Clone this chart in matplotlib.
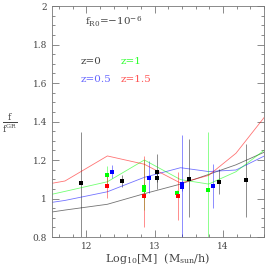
import numpy as np
import matplotlib
matplotlib.use('Agg')
import matplotlib.pyplot as plt
from matplotlib.ticker import MultipleLocator

# model curves (shared mass nodes)
mass_nodes = [11.5, 11.69, 12.31, 12.85, 13.38, 13.79, 14.19, 14.6]
line_z0 = [0.93, 0.94, 0.97, 1.025, 1.075, 1.125, 1.175, 1.24]
line_z05 = [0.98, 0.99, 1.035, 1.11, 1.16, 1.14, 1.148, 1.22]
line_z1 = [1.022, 1.037, 1.087, 1.2, 1.098, 1.075, 1.139, 1.25]
line_z15 = [1.079, 1.091, 1.221, 1.178, 1.08, 1.12, 1.235, 1.42]

# simulation points: mass, value, upper end, lower end
pts_z0_m = [11.93, 12.53, 13.03, 13.03, 13.5, 13.94, 14.33]
pts_z0_v = [1.079, 1.092, 1.139, 1.108, 1.10, 1.087, 1.096]
pts_z0_hi = [1.347, 1.122, 1.231, 1.13, 1.307, 1.152, 1.283]
pts_z0_lo = [0.80, 1.058, 1.048, 1.085, 0.902, 1.023, 0.902]

pts_z05_m = [12.38, 12.92, 13.4, 13.4, 13.85]
pts_z05_v = [1.139, 1.105, 1.074, 1.061, 1.065]
pts_z05_hi = [1.174, 1.196, 1.33, 1.09, 1.178]
pts_z05_lo = [1.108, 1.027, 0.80, 1.04, 0.949]

pts_z1_m = [12.31, 12.84, 12.84, 13.33, 13.78]
pts_z1_v = [1.122, 1.061, 1.044, 1.03, 1.044]
pts_z1_hi = [1.17, 1.2, 1.08, 1.045, 1.347]
pts_z1_lo = [1.075, 0.94, 1.0, 1.015, 0.80]

pts_z15_m = [12.31, 12.84, 13.34]
pts_z15_v = [1.065, 1.013, 1.013]
pts_z15_hi = [1.12, 1.221, 1.139]
pts_z15_lo = [1.004, 0.85, 0.888]

series = [
    ('black', line_z0, pts_z0_m, pts_z0_v, pts_z0_hi, pts_z0_lo),
    ('blue', line_z05, pts_z05_m, pts_z05_v, pts_z05_hi, pts_z05_lo),
    ('#00ff00', line_z1, pts_z1_m, pts_z1_v, pts_z1_hi, pts_z1_lo),
    ('red', line_z15, pts_z15_m, pts_z15_v, pts_z15_hi, pts_z15_lo),
]

plt.rcParams['font.family'] = 'DejaVu Serif'
plt.rcParams['mathtext.fontset'] = 'dejavuserif'

fig = plt.figure(figsize=(2.79, 2.79), dpi=100)
ax = fig.add_axes([52/279, 42/279, 212/279, 231/279])

for col, line, m, v, hi, lo in series:
    ax.plot(mass_nodes, line, color=col, lw=0.6, alpha=0.55)
    v = np.array(v)
    yerr = [v - np.array(lo), np.array(hi) - v]
    ax.errorbar(m, v, yerr=yerr, fmt='s', color=col, ms=2.4, elinewidth=0.7,
                capsize=1.5, capthick=0.6, ecolor=col, alpha=1.0,
                markeredgewidth=0)
    for eb in ax.containers[-1].lines[1:]:
        for e in eb:
            e.set_alpha(0.45)

ax.set_xlim(11.5, 14.6)
ax.set_ylim(0.8, 2.0)
ax.xaxis.set_major_locator(MultipleLocator(1))
ax.xaxis.set_minor_locator(MultipleLocator(0.2))
ax.yaxis.set_major_locator(MultipleLocator(0.2))
ax.yaxis.set_minor_locator(MultipleLocator(0.05))
ax.set_yticks([0.8, 1.0, 1.2, 1.4, 1.6, 1.8, 2.0])
ax.set_yticklabels(['0.8', '1', '1.2', '1.4', '1.6', '1.8', '2'])
ax.tick_params(which='both', direction='in', top=True, right=True,
               labelsize=6.5, labelcolor='#444444', color='#777777', width=0.6)
ax.tick_params(which='major', length=5)
ax.tick_params(which='minor', length=2.5)
for s in ax.spines.values():
    s.set_color('#777777')
    s.set_linewidth(0.6)

ax.text(11.98, 1.917, r'f$_{\rm R0}$=$-$10$^{-6}$', fontsize=7.5, color='#444444',
        va='center')
ax.text(11.92, 1.714, 'z=0', fontsize=7.5, color='#444444', va='center')
ax.text(12.5, 1.714, 'z=1', fontsize=7.5, color='#33ff33', va='center')
ax.text(11.92, 1.616, 'z=0.5', fontsize=7.5, color='#6666ff', va='center')
ax.text(12.5, 1.616, 'z=1.5', fontsize=7.5, color='#ff5555', va='center')

fig.text(10/279, 1 - 123/279, r'$\frac{\rm f}{{\rm f}^{\rm GR}}$', fontsize=9,
         color='#444444', ha='center', va='center')
fig.text(158/279, 1 - 258/279, r'Log$_{10}$[M]  (M$_{\rm sun}$/h)', fontsize=8,
         color='#444444', ha='center', va='center')

fig.savefig('out.png', dpi=100)
